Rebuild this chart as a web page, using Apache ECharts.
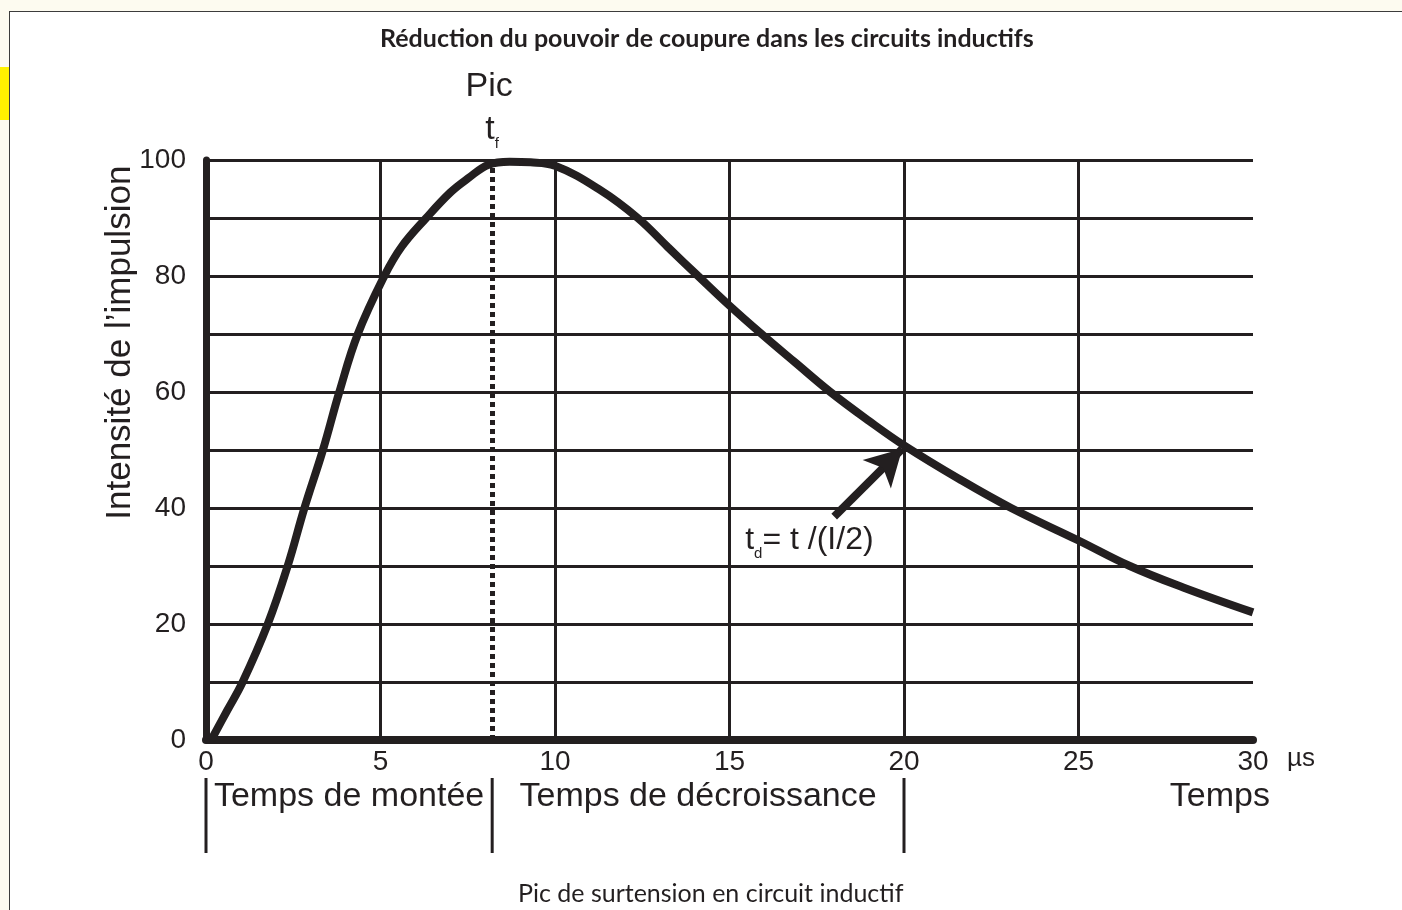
<!DOCTYPE html>
<html>
<head>
<meta charset="utf-8">
<title>Réduction du pouvoir de coupure</title>
<script src="https://cdn.jsdelivr.net/npm/echarts@6/dist/echarts.min.js"></script>
<style>
  html, body { margin: 0; padding: 0; background: #fdfbf0; }
  #strip { position: absolute; left: 0; top: 67px; width: 9px; height: 53px; background: #fff200; }
  #frame { position: absolute; left: 9px; top: 11px; right: 0; bottom: 0; background: #fff;
           border-left: 1px solid #3c3c3c; border-top: 1px solid #3c3c3c; }
  #chart { position: absolute; left: 0; top: 0; width: 1402px; height: 910px; }
</style>
</head>
<body>
<div id="strip"></div>
<div id="frame"></div>
<div id="chart"></div>
<script>
// courbe de l'impulsion (temps en µs, intensité en %)
const tempsUs = [0.15, 0.6, 1.05, 1.77, 2.34, 2.82, 3.35, 3.82, 4.35, 5.11, 5.6, 6.31, 7.0, 7.5, 8.1, 8.7, 9.3, 10,
  11.3, 12.37, 13.23, 14.1, 15, 15.92, 16.88, 17.89, 19, 20, 21.58, 23.07, 25, 26.47, 28, 30];
const intensite = [0, 5, 10, 20, 30, 40, 50, 60, 70, 80, 85, 90, 94.4, 96.8, 99.2, 99.7, 99.6, 99.0,
  94.8, 90, 85, 80, 74.9, 70, 65.1, 60, 55, 50.8, 45, 40, 34.4, 30, 26.3, 22];

const xTicks = [0, 5, 10, 15, 20, 25, 30];
const xInnerTicks = [5, 10, 15, 20, 25];
const yTicks = [0, 20, 40, 60, 80, 100];

const tPic = 8.2;                 // pic t_f
const phaseBounds = [0, 8.2, 20];  // limites montée / décroissance
const arrowFrom = [18.0, 38.5];
const arrowTo = [19.95, 50.2];

const INK = '#231f20';
const SANS = '"Liberation Sans", Arial, sans-serif';

const chart = echarts.init(document.getElementById('chart'), null, {renderer: 'canvas'});

const option = {
  backgroundColor: 'transparent',
  animation: false,
  title: [
    {
      text: 'Réduction du pouvoir de coupure dans les circuits inductifs',
      left: 375, top: 21,
      textStyle: {fontFamily: 'Lato', fontWeight: 'bold', fontSize: 25, color: INK}
    },
    {
      text: 'Pic de surtension en circuit inductif',
      left: 513, top: 876,
      textStyle: {fontFamily: 'Lato', fontWeight: 'normal', fontSize: 25, color: INK}
    }
  ],
  grid: {left: 206, right: 149, top: 160, bottom: 170},
  xAxis: [
    {
      type: 'value', min: 0, max: 30, interval: 5,
      name: 'µs', nameLocation: 'end', nameGap: 34,
      nameTextStyle: {fontFamily: SANS, fontSize: 26, color: INK, verticalAlign: 'top', padding: [6, 0, 0, 0]},
      axisLine: {show: true, onZero: false, lineStyle: {color: INK, width: 8}},
      axisTick: {show: false},
      axisLabel: {customValues: xTicks, margin: 8, fontFamily: SANS, fontSize: 28, color: INK},
      splitLine: {show: true, showMinLine: false, showMaxLine: false, lineStyle: {color: INK, width: 3}}
    },
    {
      // petits dépassements des verticales au-dessus du cadre
      type: 'value', position: 'top', min: 0, max: 30, interval: 5,
      axisLine: {show: false},
      axisTick: {show: true, customValues: xInnerTicks, length: 8, lineStyle: {color: INK, width: 3}},
      axisLabel: {show: false},
      splitLine: {show: false}
    }
  ],
  yAxis: {
    type: 'value', min: 0, max: 100, interval: 10,
    axisLine: {show: true, lineStyle: {color: INK, width: 7}},
    axisTick: {show: false},
    axisLabel: {customValues: yTicks, margin: 20, fontFamily: SANS, fontSize: 28, color: INK, padding: [0, 0, 6, 0]},
    splitLine: {show: true, showMinLine: false, lineStyle: {color: INK, width: 3}}
  },
  series: [
    {
      type: 'line',
      data: tempsUs.map((t, i) => [t, intensite[i]]),
      smooth: 0.4,
      showSymbol: false,
      clip: false,
      lineStyle: {color: INK, width: 8},
      z: 5,
      markLine: {
        silent: true,
        symbol: 'none',
        label: {show: false},
        data: [
          {xAxis: tPic, lineStyle: {color: INK, width: 5, type: [5, 4]}},
          [
            {coord: arrowFrom, symbol: 'none'},
            {coord: arrowTo, symbol: 'arrow', symbolSize: [30, 36], lineStyle: {color: INK, width: 8, type: 'solid'}}
          ]
        ]
      }
    }
  ]
};

chart.setOption(option);

// annotations placées via les échelles du graphique
const px = v => chart.convertToPixel({xAxisIndex: 0}, v);
const py = v => chart.convertToPixel({yAxisIndex: 0}, v);

const txt = (x, y, text, extra) => ({
  type: 'text', x: x, y: y, z: 10,
  style: Object.assign({text: text, fill: INK, fontFamily: SANS, fontSize: 34, align: 'center', verticalAlign: 'middle'}, extra || {})
});

const graphic = [];
phaseBounds.forEach(b => {
  graphic.push({
    type: 'line', z: 10,
    shape: {x1: px(b), y1: 778, x2: px(b), y2: 853},
    style: {stroke: INK, lineWidth: 3}
  });
});
graphic.push(txt((px(phaseBounds[0]) + px(phaseBounds[1])) / 2, 797, 'Temps de montée'));
graphic.push(txt((px(phaseBounds[1]) + px(phaseBounds[2])) / 2, 797, 'Temps de décroissance'));
graphic.push(txt(px(30) + 17, 797, 'Temps', {align: 'right'}));
graphic.push(txt(px(tPic) - 3, 87, 'Pic'));
graphic.push(txt(px(tPic), 130, '{t|t}{s|f}', {
  rich: {
    t: {fontFamily: SANS, fontSize: 34, lineHeight: 42, fill: INK},
    s: {fontFamily: SANS, fontSize: 15, lineHeight: 16, verticalAlign: 'bottom', fill: INK}
  }
}));
graphic.push(txt(px(15.45), 540, '{t|t}{s|d}{t|= t /(I/2)}', {
  align: 'left',
  rich: {
    t: {fontFamily: SANS, fontSize: 32, lineHeight: 42, fill: INK},
    s: {fontFamily: SANS, fontSize: 15, lineHeight: 16, verticalAlign: 'bottom', fill: INK}
  }
}));
graphic.push({
  type: 'text', x: 120, y: py(68.5), rotation: Math.PI / 2, z: 10,
  style: {text: 'Intensité de l’impulsion', fill: INK, fontFamily: SANS, fontSize: 35, align: 'center', verticalAlign: 'middle'}
});

chart.setOption({graphic: graphic});

window.addEventListener('resize', () => chart.resize());
</script>
</body>
</html>
